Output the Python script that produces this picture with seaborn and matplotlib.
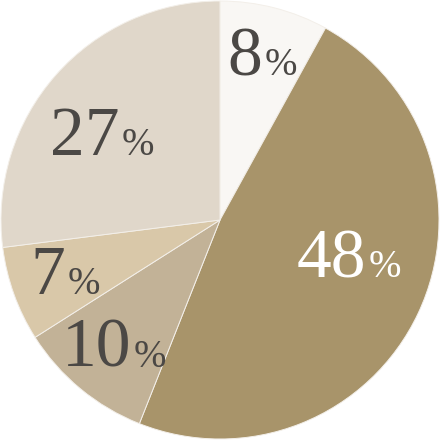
import matplotlib
matplotlib.use("Agg")
import matplotlib.pyplot as plt
import seaborn as sns

# slice values, clockwise from 12 o'clock
shares = [8, 48, 10, 7, 27]
slice_colors = ["#f9f7f4", "#a8946a", "#c2b297", "#d9c8a9", "#e0d7ca"]
text_colors = ["#4b4845", "#ffffff", "#4b4845", "#4b4845", "#4b4845"]

# where the number ends / % starts (axes data units, radius = 1), baseline aligned
label_anchor = [(0.192, 0.662), (0.667, -0.262), (-0.406, -0.671), (-0.708, -0.338), (-0.461, 0.297)]

sns.set_style("white")
plt.rcParams["font.family"] = ["Liberation Serif", "DejaVu Serif"]

fig = plt.figure(figsize=(4.40, 4.41), dpi=100)
ax = fig.add_axes([0, 0, 1, 1])
ax.pie(shares, colors=slice_colors, startangle=90, counterclock=False, radius=1.0,
       wedgeprops=dict(edgecolor="#f3efe9", linewidth=0.7))

for v, c, (x, y) in zip(shares, text_colors, label_anchor):
    ax.text(x, y, str(v), ha="right", va="baseline", fontsize=50, color=c)
    ax.text(x + 0.01, y, "%", ha="left", va="baseline", fontsize=28, color=c)

r = 219.0
ax.set_xlim(-220 / r, 220 / r)
ax.set_ylim(-221 / r, 220 / r)
ax.set_aspect("auto")
ax.axis("off")

fig.savefig("out.png", dpi=100, facecolor="white")
